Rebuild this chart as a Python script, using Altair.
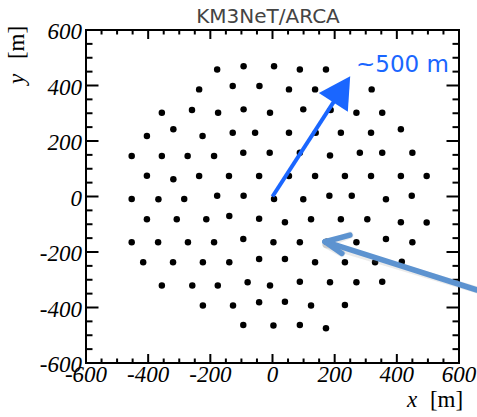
import math
import altair as alt
import pandas as pd

# Footprint of one ARCA building block: detection-unit positions (metres)
du_x = [
    -178, -93, 5, 88, 172,
    -236, -128, -42, 53, 137, 228, 319,
    -356, -259, -175, -93, -8, 99, 187, 270, 353,
    -404, -319, -225, -128, -56, 53, 139, 220, 317, 413,
    -453, -356, -273, -188, -94, -9, 88, 185, 281, 353, 450,
    -404, -319, -236, -140, -43, 53, 137, 233, 317, 413, 496,
    -453, -367, -284, -178, -93, 5, 99, 183, 255, 365, 448,
    -404, -308, -213, -139, -43, 40, 124, 220, 305, 413, 496,
    -453, -368, -272, -188, -94, 3, 88, 174, 270, 365, 450,
    -416, -320, -224, -139, -43, 40, 137, 233, 330, 416,
    -356, -258, -176, -80, -8, 88, 185, 270, 353,
    -224, -127, -43, 40, 124, 233,
    -94, 3, 88, 172,
]
du_y = [
    458, 469, 469, 458, 458,
    386, 398, 398, 386, 386, 386, 386,
    302, 312, 302, 314, 302, 314, 312, 302, 302,
    218, 242, 218, 230, 230, 230, 230, 230, 230, 242,
    146, 146, 146, 146, 158, 158, 158, 148, 158, 158, 158,
    75, 62, 74, 74, 74, 74, 74, 74, 74, 74, 74,
    -9, -10, -9, 3, 3, -9, -10, 3, 3, -10, 3,
    -82, -82, -82, -70, -80, -93, -82, -82, -82, -93, -94,
    -165, -165, -165, -165, -153, -165, -165, -163, -165, -153, -165,
    -237, -237, -237, -237, -225, -225, -237, -237, -237, -235,
    -321, -321, -321, -309, -321, -307, -309, -309, -307,
    -393, -393, -381, -379, -393, -391,
    -463, -465, -463, -475,
]

# Axis ticks
tick_labels = [-600, -400, -200, 0, 200, 400, 600]
minor_ticks = [v for v in range(-600, 601, 50) if v not in tick_labels]

# Scale-bar arrow (~500 m) from the block centre
scale_tail = (0, 0)
scale_tip = (250, 433)

# Pointer arrow: tail (beyond the frame), tip and the two barb ends
pointer_x = [658, 169, 249, 223]
pointer_y = [-337, -163, -139, -205]

W, H = 373, 333
DOMAIN = [-600, 600]
BLUE = "#1a66ff"
STEEL = "#5d93d0"
SERIF = "Liberation Serif"
FS = 23

xs = alt.Scale(domain=DOMAIN, nice=False, zero=False)
ys = alt.Scale(domain=DOMAIN, nice=False, zero=False)


def X(field):
    return alt.X(field, scale=xs, axis=None)


def Y(field):
    return alt.Y(field, scale=ys, axis=None)


dots = alt.Chart(pd.DataFrame({"x": du_x, "y": du_y})).mark_circle(
    size=42, color="black", opacity=1
).encode(x=X("x:Q"), y=Y("y:Q"))


def tick_layer(values, side, length):
    df = pd.DataFrame({"v": values})
    base = alt.Chart(df).mark_rule(color="black", strokeWidth=2)
    if side == "left":
        return base.encode(y=Y("v:Q"), x=alt.value(0), x2=alt.value(length))
    if side == "right":
        return base.encode(y=Y("v:Q"), x=alt.value(W), x2=alt.value(W - length))
    if side == "top":
        return base.encode(x=X("v:Q"), y=alt.value(0), y2=alt.value(length))
    return base.encode(x=X("v:Q"), y=alt.value(H), y2=alt.value(H - length))


ticks = [
    tick_layer(tick_labels, "left", 12.5), tick_layer(minor_ticks, "left", 6.5),
    tick_layer(tick_labels, "right", 12.5), tick_layer(minor_ticks, "right", 6.5),
    tick_layer(tick_labels, "top", 9), tick_layer(minor_ticks, "top", 4.5),
    tick_layer(tick_labels, "bottom", 9), tick_layer(minor_ticks, "bottom", 4.5),
]

# Tick labels in an italic serif face, with a plain hyphen for negatives
label_df = pd.DataFrame({"v": tick_labels, "t": [str(v) for v in tick_labels]})
label_style = dict(font=SERIF, fontStyle="italic", fontSize=FS, color="black")
x_labels = alt.Chart(label_df).mark_text(
    align="center", baseline="top", dy=1, **label_style
).encode(x=X("v:Q"), y=alt.value(H), text="t:N")
y_labels = alt.Chart(label_df).mark_text(
    align="right", baseline="middle", dx=-4, dy=2, **label_style
).encode(y=Y("v:Q"), x=alt.value(0), text="t:N")

# Scale arrow: shaft stops inside the head so the head tip stays sharp
shaft = pd.DataFrame({
    "x": [scale_tail[0]], "y": [scale_tail[1]],
    "x2": [scale_tip[0] * 0.9], "y2": [scale_tip[1] * 0.9],
})
scale_shaft = alt.Chart(shaft).mark_rule(color=BLUE, strokeWidth=4).encode(
    x=X("x:Q"), y=Y("y:Q"), x2="x2:Q", y2="y2:Q",
)
px_per_x = W / (DOMAIN[1] - DOMAIN[0])
px_per_y = H / (DOMAIN[1] - DOMAIN[0])
head_angle = math.degrees(math.atan2(scale_tip[0] * px_per_x, scale_tip[1] * px_per_y))
scale_head = alt.Chart(pd.DataFrame({"x": [scale_tip[0]], "y": [scale_tip[1]]})).mark_point(
    shape="M0,0L1,1.8L-1,1.8Z", filled=True, size=1190, angle=head_angle,
    color=BLUE, opacity=1, strokeWidth=0,
).encode(x=X("x:Q"), y=Y("y:Q"))

scale_text = alt.Chart(pd.DataFrame({"t": ["~500 m"]})).mark_text(
    font="DejaVu Sans", fontSize=23, color=BLUE, align="left", baseline="alphabetic",
).encode(x=alt.value(270), y=alt.value(41.5), text="t:N")

# Pointer arrow: shaft plus two barbs, all starting at the tip
segs = pd.DataFrame({
    "x": [pointer_x[1]] * 3, "y": [pointer_y[1]] * 3,
    "x2": pointer_x[0:1] + pointer_x[2:4], "y2": pointer_y[0:1] + pointer_y[2:4],
})
pointer_shadow = alt.Chart(segs).mark_rule(
    color="#7a7a7a", strokeWidth=7, opacity=0.15, strokeCap="round", xOffset=1, yOffset=3,
).encode(x=X("x:Q"), y=Y("y:Q"), x2="x2:Q", y2="y2:Q")
pointer = alt.Chart(segs).mark_rule(color=STEEL, strokeWidth=5.5, strokeCap="round").encode(
    x=X("x:Q"), y=Y("y:Q"), x2="x2:Q", y2="y2:Q",
)

# Titles
title = alt.Chart(pd.DataFrame({"t": ["KM3NeT/ARCA"]})).mark_text(
    font="DejaVu Sans", fontSize=20, color="#444444", align="center", baseline="alphabetic",
).encode(x=alt.value(182), y=alt.value(-7.5), text="t:N")

serif = dict(font=SERIF, fontSize=FS, color="black", baseline="alphabetic")
x_title_var = alt.Chart(pd.DataFrame({"t": ["x"]})).mark_text(
    fontStyle="italic", align="center", **serif
).encode(x=alt.value(326), y=alt.value(377), text="t:N")
x_title_unit = alt.Chart(pd.DataFrame({"t": ["[m]"]})).mark_text(
    align="center", **serif
).encode(x=alt.value(360.5), y=alt.value(377), text="t:N")
y_title_var = alt.Chart(pd.DataFrame({"t": ["y"]})).mark_text(
    fontStyle="italic", align="center", angle=270, **serif
).encode(x=alt.value(-62), y=alt.value(49), text="t:N")
y_title_unit = alt.Chart(pd.DataFrame({"t": ["[m]"]})).mark_text(
    align="center", angle=270, **serif
).encode(x=alt.value(-62), y=alt.value(12.5), text="t:N")

chart = alt.layer(
    dots, *ticks, x_labels, y_labels, scale_shaft, scale_head, scale_text,
    pointer_shadow, pointer,
    title, x_title_var, x_title_unit, y_title_var, y_title_unit,
).properties(
    width=W, height=H,
    autosize=alt.AutoSizeParams(type="none"),
    padding={"left": 86, "top": 30, "right": 18, "bottom": 54},
    background="white",
).configure_view(stroke="black", strokeWidth=2)

chart.save("out.html", embed_options={"renderer": "svg", "actions": False})
